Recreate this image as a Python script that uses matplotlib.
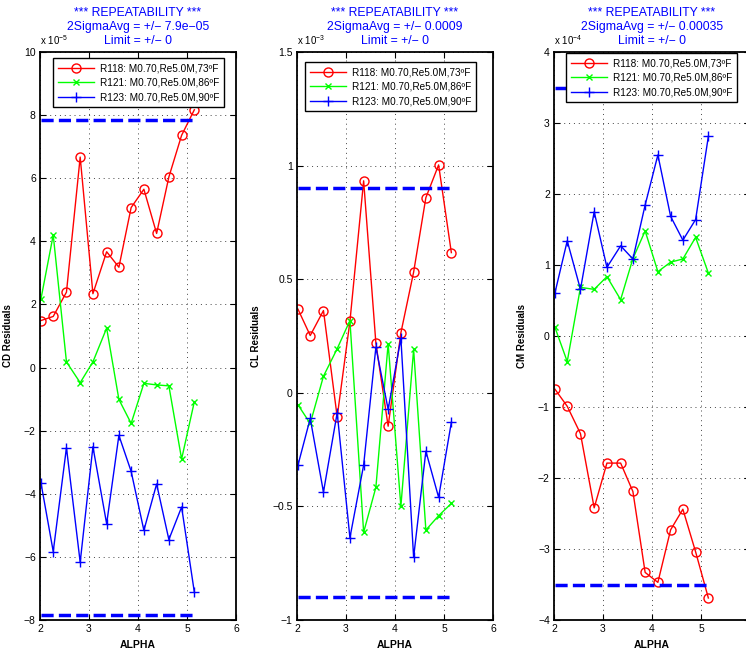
import matplotlib
matplotlib.use('Agg')
import matplotlib.pyplot as plt

plt.rcParams['font.family'] = ['Liberation Sans', 'DejaVu Sans']

# ---------------- data ----------------
alpha = [2.02, 2.27, 2.54, 2.82, 3.08, 3.36, 3.61, 3.86, 4.12, 4.38, 4.63, 4.89, 5.15]
run_labels = ['R118: M0.70,Re5.0M,73\u00baF',
              'R121: M0.70,Re5.0M,86\u00baF',
              'R123: M0.70,Re5.0M,90\u00baF']

# CD residuals (x 1e-5)
cd_r118 = [1.49, 1.62, 2.39, 6.67, 2.34, 3.67, 3.18, 5.07, 5.65, 4.25, 6.04, 7.36, 8.17]
cd_r121 = [2.18, 4.20, 0.18, -0.48, 0.18, 1.25, -1.01, -1.77, -0.50, -0.55, -0.58, -2.90, -1.08]
cd_r123 = [-3.66, -5.83, -2.54, -6.17, -2.51, -4.95, -2.15, -3.29, -5.16, -3.69, -5.45, -4.42, -7.12]
cd_limit = 7.85

# CL residuals (x 1e-3)
cl_r118 = [0.368, 0.252, 0.362, -0.106, 0.314, 0.933, 0.218, -0.147, 0.264, 0.531, 0.859, 1.003, 0.617]
cl_r121 = [-0.053, -0.135, 0.073, 0.194, 0.318, -0.614, -0.416, 0.216, -0.500, 0.191, -0.604, -0.541, -0.487]
cl_r123 = [-0.318, -0.113, -0.437, -0.088, -0.638, -0.318, 0.201, -0.073, 0.240, -0.724, -0.257, -0.460, -0.130]
cl_limit = 0.90

# CM residuals (x 1e-4)
cm_r118 = [-0.75, -0.99, -1.375, -2.42, -1.79, -1.79, -2.19, -3.33, -3.47, -2.73, -2.44, -3.04, -3.69]
cm_r121 = [0.12, -0.36, 0.685, 0.657, 0.836, 0.512, 1.09, 1.48, 0.906, 1.04, 1.085, 1.39, 0.887]
cm_r123 = [0.61, 1.34, 0.657, 1.75, 0.967, 1.27, 1.085, 1.845, 2.55, 1.685, 1.35, 1.64, 2.81]
cm_limit = 3.5

sigma_texts = ['7.9e\u221205', '0.0009', '0.00035']
ylabels = ['CD Residuals', 'CL Residuals', 'CM Residuals']
exponents = ['-5', '-3', '-4']
yticks_list = [list(range(-8, 11, 2)), [-1, -0.5, 0, 0.5, 1, 1.5], list(range(-4, 5))]
ytick_labels = [[str(v).replace('-', '\u2212') for v in range(-8, 11, 2)],
                ['\u22121', '\u22120.5', '0', '0.5', '1', '1.5'],
                [str(v).replace('-', '\u2212') for v in range(-4, 5)]]
ylims = [(-8, 10), (-1, 1.5), (-4, 4)]
xticks = [2, 3, 4, 5, 6]
xtick_labels = [['2', '3', '4', '5', '6'], ['2', '3', '4', '5', '6'], ['2', '3', '4', '5', '']]

panels = [(cd_r118, cd_r121, cd_r123, cd_limit),
          (cl_r118, cl_r121, cl_r123, cl_limit),
          (cm_r118, cm_r121, cm_r123, cm_limit)]

W, H = 746, 654
fig = plt.figure(figsize=(W / 100, H / 100), dpi=100)

lefts = [40, 297, 554]
legend_anchor = [(0.066, 0.989), (0.041, 0.982), (0.061, 0.998)]
ax_w, ax_top, ax_bot = 196, 52, 620

for i, (r118, r121, r123, lim) in enumerate(panels):
    ax = fig.add_axes([lefts[i] / W, (H - ax_bot) / H, ax_w / W, (ax_bot - ax_top) / H])
    ax.plot(alpha, r118, color='red', marker='o', markersize=6.5, markerfacecolor='none',
            markeredgewidth=1.0, linewidth=1.0, label=run_labels[0])
    ax.plot(alpha, r121, color='#00ff00', marker='x', markersize=5, markeredgewidth=1.0,
            linewidth=1.0, label=run_labels[1])
    ax.plot(alpha, r123, color='blue', marker='+', markersize=7.5, markeredgewidth=1.0,
            linewidth=1.0, label=run_labels[2])
    ax.plot([alpha[0], alpha[-1]], [lim, lim], color='blue', linestyle=(0, (3.5, 1.5)), linewidth=2.5)
    ax.plot([alpha[0], alpha[-1]], [-lim, -lim], color='blue', linestyle=(0, (3.5, 1.5)), linewidth=2.5)

    ax.set_xlim(2, 6)
    ax.set_ylim(*ylims[i])
    ax.set_xticks(xticks)
    ax.set_xticklabels(xtick_labels[i])
    ax.set_yticks(yticks_list[i])
    ax.set_yticklabels(ytick_labels[i])
    ax.tick_params(direction='in', top=True, right=True, length=4, width=0.8,
                   labelsize=7.5, pad=3)
    ax.grid(True, linestyle=(0, (1, 4)), color='#444444', linewidth=0.7)
    for s in ax.spines.values():
        s.set_linewidth(1.3)

    ax.set_xlabel('ALPHA', fontsize=7.5, fontweight='bold', labelpad=4)
    ax.set_ylabel(ylabels[i], fontsize=7, fontweight='bold', labelpad=8)
    ax.set_title('*** REPEATABILITY ***\n2SigmaAvg = +/\u2212 ' + sigma_texts[i] +
                 '\nLimit = +/\u2212 0', color='blue', fontsize=8.8, linespacing=1.2, pad=6)
    ax.text(0.0, 1.008, 'x 10$^{\\mathregular{' + exponents[i].replace('-', '\u2212') + '}}$',
            transform=ax.transAxes, ha='left', va='bottom', fontsize=7)

    leg = ax.legend(loc='upper left', bbox_to_anchor=legend_anchor[i], fontsize=7.2,
                    frameon=True, fancybox=False, edgecolor='black', framealpha=1,
                    handlelength=3.6, labelspacing=0.45, borderpad=0.5, handletextpad=0.6,
                    borderaxespad=0.0)
    leg.get_frame().set_linewidth(1.0)

fig.savefig('out.png', dpi=100)
